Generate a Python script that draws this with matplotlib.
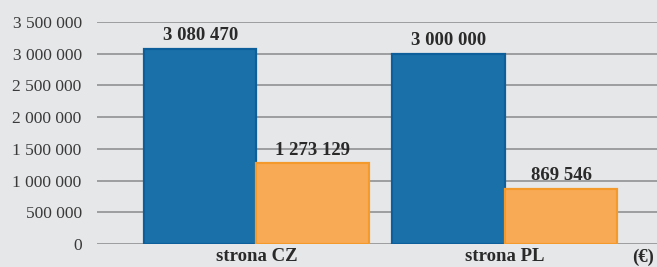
import numpy as np
import matplotlib
matplotlib.use("Agg")
import matplotlib.pyplot as plt

categories = ["strona CZ", "strona PL"]
budget = [3080470, 3000000]
spent = [1273129, 869546]
yticks = [0, 500000, 1000000, 1500000, 2000000, 2500000, 3000000, 3500000]


def fmt(v):
    return f"{v:,}".replace(",", " ")


plt.rcParams["font.family"] = ["Liberation Serif", "DejaVu Serif"]

bg = "#e6e7e9"
fig = plt.figure(figsize=(6.57, 2.67), dpi=100, facecolor=bg)
ax = fig.add_axes([0.1476, 0.0861, 0.8524, 0.8315], facecolor=bg)

x = np.arange(len(categories))
w = 0.453
b1 = ax.bar(x - w / 2, budget, w, color="#1a70a8", edgecolor="#0d5f9c",
            linewidth=1.6, zorder=3)
b2 = ax.bar(x + w / 2, spent, w, color="#f8aa55", edgecolor="#f49a2c",
            linewidth=1.6, zorder=3)

for bars in (b1, b2):
    for r in bars:
        ax.text(r.get_x() + r.get_width() / 2, r.get_height() + 70000,
                fmt(int(r.get_height())), ha="center", va="bottom",
                fontsize=13.5, fontweight="bold", color="#2a2a2a")

ax.set_ylim(0, 3500000)
ax.set_xlim(-0.642, 1.612)
ax.set_yticks(yticks)
ax.set_yticklabels([fmt(v) for v in yticks], fontsize=12.5, color="#3a3a3a")
ax.set_xticks(x)
ax.set_xticklabels(categories, fontsize=13.5, fontweight="bold",
                   color="#2a2a2a")
ax.tick_params(axis="y", length=0, pad=11)
ax.tick_params(axis="x", length=0, pad=3)
ax.grid(axis="y", color="#9d9d9f", linewidth=1.4, zorder=0)
for s in ax.spines.values():
    s.set_visible(False)

fig.text(0.979, 0.035, "(€)", ha="center", va="center", fontsize=13.5,
         fontweight="bold", color="#2a2a2a")

fig.savefig("out.png", dpi=100, facecolor=bg)
